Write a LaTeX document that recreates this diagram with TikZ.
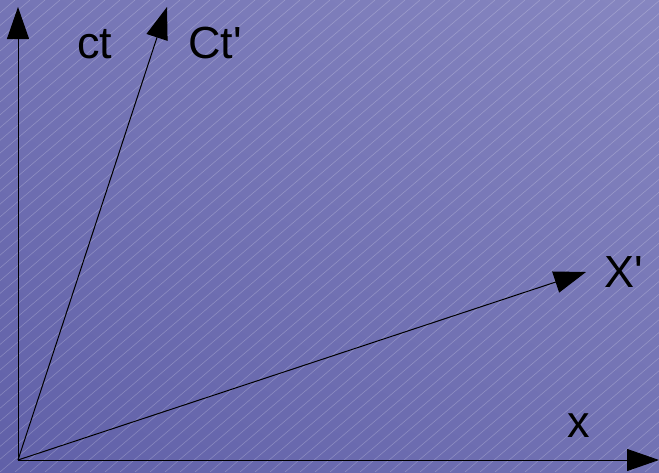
\documentclass[tikz,border=0pt]{standalone}
\usepackage{fontspec}
\setmainfont{Liberation Sans}
\usetikzlibrary{arrows.meta,shadings}
\definecolor{bgdark}{RGB}{96,96,168}
\definecolor{bglight}{RGB}{134,134,192}
\tikzset{
  axis/.style={black, line width=1pt, -{Triangle[length=32pt,width=22pt]}},
  lbl/.style={font=\fontsize{45}{45}\selectfont, text=black, inner sep=0pt, anchor=base},
  hatch/.style={white, opacity=0.22, line width=0.6pt}
}
\begin{document}
\begin{tikzpicture}[x=1pt,y=-1pt]
  \useasboundingbox (0,0) rectangle (659,472);
  \shade[lower left=bgdark, upper right=bglight, lower right=bgdark!55!bglight, upper left=bgdark!45!bglight] (0,0) rectangle (659,472);
  \begin{scope}
    \clip (0,0) rectangle (659,472);
    \foreach \c in {0,15,...,1230} {
      \draw[hatch] (\c,0) -- (\c-555,472);
    }
  \end{scope}
  \coordinate (O) at (18,460);
  \coordinate (ctT) at (18,7);
  \coordinate (CtT) at (167,7);
  \coordinate (XpT) at (586,272);
  \coordinate (xT) at (659,460);
  \draw[axis] (O) -- (ctT);
  \draw[axis] (O) -- (CtT);
  \draw[axis] (O) -- (XpT);
  \draw[axis] (O) -- (xT);
  \node[lbl] (ct) at (95,58) {ct};
  \node[lbl] (Ct) at (215,58) {Ct\textquotesingle};
  \node[lbl] (Xp) at (624,287) {X\textquotesingle};
  \node[lbl] (x) at (579,437) {x};
\end{tikzpicture}
\end{document}
